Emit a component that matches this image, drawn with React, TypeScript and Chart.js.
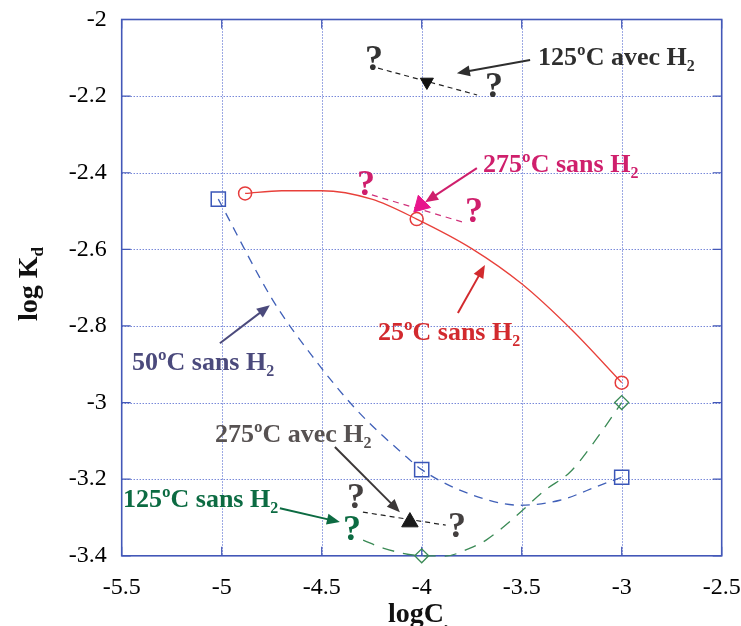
import React, { useEffect, useRef } from "react";
import { Chart, registerables } from "chart.js";

Chart.register(...registerables);

const FONT = '"Liberation Serif", "Times New Roman", serif';

// Axes
const xTickValues = [-5.5, -5, -4.5, -4, -3.5, -3, -2.5];
const yTickValues = [-2, -2.2, -2.4, -2.6, -2.8, -3, -3.2, -3.4];

// 25ºC sans H2 : measured points and fitted curve
const c25X = [-4.883, -4.025, -3.0];
const c25Y = [-2.454, -2.521, -2.948];
const c25CurveX = [-4.883, -4.7, -4.5, -4.25, -4.025, -3.75, -3.5, -3.25, -3.0];
const c25CurveY = [-2.454, -2.447, -2.447, -2.469, -2.521, -2.598, -2.69, -2.81, -2.948];

// 50ºC sans H2
const c50X = [-5.017, -4.0, -3.0];
const c50Y = [-2.469, -3.175, -3.195];
const c50CurveX = [-5.017, -4.744, -4.544, -4.324, -4.074, -4.0, -3.793, -3.509, -3.309, -3.109, -3.0];
const c50CurveY = [-2.469, -2.733, -2.881, -3.02, -3.143, -3.175, -3.232, -3.268, -3.255, -3.216, -3.195];

// 125ºC sans H2
const c125X = [-4.0, -3.0];
const c125Y = [-3.4, -3.0];
const c125CurveX = [-4.293, -4.193, -4.0, -3.883, -3.758, -3.678, -3.534, -3.384, -3.259, -3.149, -3.0];
const c125CurveY = [-3.359, -3.38, -3.4, -3.401, -3.38, -3.359, -3.299, -3.229, -3.182, -3.111, -3.0];

// 125ºC avec H2
const a125X = [-3.974];
const a125Y = [-2.163];
const a125LineX = [-4.218, -3.723];
const a125LineY = [-2.127, -2.197];

// 275ºC sans H2
const s275X = [-4.004];
const s275Y = [-2.484];
const s275LineX = [-4.249, -3.794];
const s275LineY = [-2.458, -2.529];

// 275ºC avec H2
const a275X = [-4.059];
const a275Y = [-3.312];
const a275LineX = [-4.294, -3.88];
const a275LineY = [-3.286, -3.32];

const pts = (xs: number[], ys: number[]) => xs.map((x, i) => ({ x, y: ys[i] }));

// Annotations: [text, subscript, color, x, y (baseline-left, data units)]
const labels: [string, string, string, number, number][] = [
  ["125ºC avec H", "2", "#2e2e2e", -3.418, -2.119],
  ["275ºC sans H", "2", "#cf1f6c", -3.693, -2.398],
  ["25ºC sans H", "2", "#d22a2e", -4.219, -2.837],
  ["50ºC sans H", "2", "#4b4a7c", -5.449, -2.915],
  ["275ºC avec H", "2", "#575252", -5.034, -3.103],
  ["125ºC sans H", "2", "#0c6b42", -5.494, -3.273],
];
// Arrows: [color, x1, y1, x2(tip), y2(tip)]
const arrows: [string, number, number, number, number][] = [
  ["#2e2e2e", -3.458, -2.106, -3.824, -2.14],
  ["#cf1f6c", -3.724, -2.388, -3.983, -2.477],
  ["#d22a2e", -3.819, -2.766, -3.684, -2.641],
  ["#4b4a7c", -5.009, -2.845, -4.759, -2.746],
  ["#3c3838", -4.434, -3.116, -4.109, -3.286],
  ["#0c6b42", -4.709, -3.276, -4.409, -3.312],
];
// Question marks: [color, x, y]
const questions: [string, number, number][] = [
  ["#333333", -4.284, -2.132],
  ["#333333", -3.684, -2.202],
  ["#cf1f6c", -4.324, -2.458],
  ["#cf1f6c", -3.784, -2.529],
  ["#444040", -4.374, -3.276],
  ["#444040", -3.869, -3.352],
  ["#0c6b42", -4.394, -3.359],
];

function subText(ctx: CanvasRenderingContext2D, x: number, y: number, main: string, sub: string, size: number) {
  ctx.font = `bold ${size}px ${FONT}`;
  ctx.fillText(main, x, y);
  const w = ctx.measureText(main).width;
  ctx.font = `bold ${Math.round(size * 0.62)}px ${FONT}`;
  ctx.fillText(sub, x + w, y + size * 0.22);
}

const overlay = {
  id: "overlay",
  beforeDatasetsDraw(chart: any) {
    const ctx: CanvasRenderingContext2D = chart.ctx;
    const { left, right, top, bottom } = chart.chartArea;
    const xs = chart.scales.x;
    const ys = chart.scales.y;
    ctx.save();
    // dotted grid
    ctx.strokeStyle = "#3a52c8";
    ctx.lineWidth = 1;
    ctx.setLineDash([1, 2]);
    xTickValues.forEach((v) => {
      const p = Math.round(xs.getPixelForValue(v)) + 0.5;
      if (p <= left + 2 || p >= right - 2) return;
      ctx.beginPath();
      ctx.moveTo(p, top);
      ctx.lineTo(p, bottom);
      ctx.stroke();
    });
    yTickValues.forEach((v) => {
      const p = Math.round(ys.getPixelForValue(v)) + 0.5;
      if (p <= top + 2 || p >= bottom - 2) return;
      ctx.beginPath();
      ctx.moveTo(left, p);
      ctx.lineTo(right, p);
      ctx.stroke();
    });
    // inside ticks
    ctx.setLineDash([]);
    ctx.strokeStyle = "#4358b8";
    ctx.lineWidth = 1.2;
    const tl = 9;
    xTickValues.forEach((v) => {
      const p = xs.getPixelForValue(v);
      ctx.beginPath();
      ctx.moveTo(p, bottom);
      ctx.lineTo(p, bottom - tl);
      ctx.moveTo(p, top);
      ctx.lineTo(p, top + tl);
      ctx.stroke();
    });
    yTickValues.forEach((v) => {
      const p = ys.getPixelForValue(v);
      ctx.beginPath();
      ctx.moveTo(left, p);
      ctx.lineTo(left + tl, p);
      ctx.moveTo(right, p);
      ctx.lineTo(right - tl, p);
      ctx.stroke();
    });
    // frame
    ctx.lineWidth = 1.6;
    ctx.strokeRect(left, top, right - left, bottom - top);
    ctx.restore();
  },
  afterDatasetsDraw(chart: any) {
    const ctx: CanvasRenderingContext2D = chart.ctx;
    const xs = chart.scales.x;
    const ys = chart.scales.y;
    const X = (v: number) => xs.getPixelForValue(v);
    const Y = (v: number) => ys.getPixelForValue(v);
    ctx.save();
    ctx.textAlign = "left";
    ctx.textBaseline = "alphabetic";
    // arrows
    arrows.forEach(([c, x1, y1, x2, y2]) => {
      const ax = X(x1), ay = Y(y1), bx = X(x2), by = Y(y2);
      const ang = Math.atan2(by - ay, bx - ax);
      const hl = 13, hw = 5.5;
      const baseX = bx - Math.cos(ang) * hl, baseY = by - Math.sin(ang) * hl;
      ctx.strokeStyle = c;
      ctx.fillStyle = c;
      ctx.lineWidth = 2;
      ctx.beginPath();
      ctx.moveTo(ax, ay);
      ctx.lineTo(baseX + Math.cos(ang) * 2, baseY + Math.sin(ang) * 2);
      ctx.stroke();
      ctx.beginPath();
      ctx.moveTo(bx, by);
      ctx.lineTo(baseX - Math.sin(ang) * hw, baseY + Math.cos(ang) * hw);
      ctx.lineTo(baseX + Math.sin(ang) * hw, baseY - Math.cos(ang) * hw);
      ctx.closePath();
      ctx.fill();
    });
    // labels
    labels.forEach(([t, s, c, x, y]) => {
      ctx.fillStyle = c;
      subText(ctx, X(x), Y(y), t, s, 26);
    });
    // question marks
    questions.forEach(([c, x, y]) => {
      ctx.fillStyle = c;
      ctx.font = `bold 36px ${FONT}`;
      ctx.fillText("?", X(x), Y(y));
    });
    // axis titles
    ctx.fillStyle = "#111111";
    ctx.font = `bold 28px ${FONT}`;
    const mainW = ctx.measureText("log K").width;
    ctx.font = `bold 17px ${FONT}`;
    const subW = ctx.measureText("d").width;
    ctx.save();
    ctx.translate(37, 284);
    ctx.rotate(-Math.PI / 2);
    subText(ctx, -(mainW + subW) / 2, 0, "log K", "d", 28);
    ctx.restore();
    subText(ctx, 388, 622, "logC", ",", 28);
    ctx.restore();
  },
};

export default function App() {
  const ref = useRef<HTMLCanvasElement | null>(null);
  useEffect(() => {
    document.body.style.margin = "0";
    const canvas = ref.current!;
    const fmt = (v: any) => String(Math.round(Number(v) * 10) / 10);
    const chart = new Chart(canvas, {
      type: "scatter",
      data: {
        datasets: [
          // markers
          { data: pts(c25X, c25Y), pointStyle: "circle", pointRadius: 6.5, borderColor: "#e63b3b", backgroundColor: "rgba(0,0,0,0)", borderWidth: 1.5, showLine: false, clip: false } as any,
          { data: pts(c50X, c50Y), pointStyle: "rect", pointRadius: 10, borderColor: "#3a56b8", backgroundColor: "rgba(0,0,0,0)", borderWidth: 1.5, showLine: false, clip: false },
          { data: pts(c125X, c125Y), pointStyle: "rectRot", pointRadius: 7, borderColor: "#3a8a55", backgroundColor: "rgba(0,0,0,0)", borderWidth: 1.3, showLine: false, clip: false },
          { data: pts(a125X, a125Y), pointStyle: "triangle", pointRotation: 180, pointRadius: 7.5, borderColor: "#111", backgroundColor: "#111", borderWidth: 1, showLine: false, clip: false },
          { data: pts(a275X, a275Y), pointStyle: "triangle", pointRadius: 9.5, borderColor: "#1a1a1a", backgroundColor: "#1a1a1a", borderWidth: 1, showLine: false, clip: false },
          { data: pts(s275X, s275Y), pointStyle: "triangle", pointRotation: -15, pointRadius: 10, borderColor: "#e8158c", backgroundColor: "#e8158c", borderWidth: 1, showLine: false, clip: false },
          // curves
          { data: pts(c25CurveX, c25CurveY), showLine: true, pointRadius: 0, borderColor: "#e8403a", borderWidth: 1.3, cubicInterpolationMode: "monotone", clip: false },
          { data: pts(c50CurveX, c50CurveY), showLine: true, pointRadius: 0, borderColor: "#4060b8", borderWidth: 1.3, borderDash: [9, 7], cubicInterpolationMode: "monotone", clip: false },
          { data: pts(c125CurveX, c125CurveY), showLine: true, pointRadius: 0, borderColor: "#3a8a55", borderWidth: 1.3, borderDash: [12, 9], cubicInterpolationMode: "monotone", clip: false },
          { data: pts(a125LineX, a125LineY), showLine: true, pointRadius: 0, borderColor: "#222", borderWidth: 1.2, borderDash: [5, 4] },
          { data: pts(s275LineX, s275LineY), showLine: true, pointRadius: 0, borderColor: "#d0307a", borderWidth: 1.2, borderDash: [6, 5] },
          { data: pts(a275LineX, a275LineY), showLine: true, pointRadius: 0, borderColor: "#222", borderWidth: 1.2, borderDash: [5, 4] },
        ],
      },
      options: {
        animation: false,
        responsive: false,
        devicePixelRatio: 1,
        layout: { padding: { top: 19.5, right: 19.3, left: 0, bottom: 0 } },
        plugins: { legend: { display: false }, tooltip: { enabled: false } },
        scales: {
          x: {
            type: "linear",
            min: -5.5,
            max: -2.5,
            afterBuildTicks: (s: any) => { s.ticks = xTickValues.map((v) => ({ value: v })); },
            afterFit: (s: any) => { s.height = 70.2; s.paddingLeft = 0; s.paddingRight = 0; },
            grid: { display: false, drawTicks: false },
            border: { display: false },
            ticks: { callback: fmt, color: "#000", font: { family: FONT, size: 24 }, padding: 18, maxRotation: 0, autoSkip: false },
          },
          y: {
            type: "linear",
            min: -3.4,
            max: -2,
            afterBuildTicks: (s: any) => { s.ticks = yTickValues.map((v) => ({ value: v })); },
            afterFit: (s: any) => { s.width = 121.7; s.paddingTop = 0; s.paddingBottom = 0; },
            grid: { display: false, drawTicks: false },
            border: { display: false },
            ticks: { callback: fmt, color: "#000", font: { family: FONT, size: 24 }, padding: 15, autoSkip: false },
          },
        },
      },
      plugins: [overlay],
    });
    return () => chart.destroy();
  }, []);
  return <canvas ref={ref} width={741} height={626} style={{ display: "block", width: 741, height: 626 }} />;
}
